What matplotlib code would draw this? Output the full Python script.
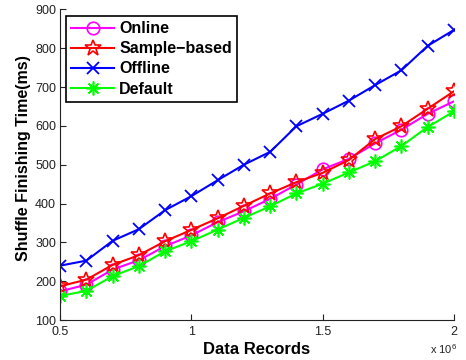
import matplotlib
matplotlib.use('Agg')
import matplotlib.pyplot as plt

plt.rcParams['font.family'] = ['Liberation Sans', 'DejaVu Sans']
plt.rcParams['mathtext.fontset'] = 'custom'
plt.rcParams['mathtext.rm'] = 'Liberation Sans'

# data records in units of 10^6
records = [0.5, 0.6, 0.7, 0.8, 0.9, 1.0, 1.1, 1.2, 1.3, 1.4, 1.5, 1.6, 1.7, 1.8, 1.9, 2.0]
online = [174, 191, 230, 254, 290, 318, 352, 380, 412, 449, 488, 515, 555, 590, 631, 663]
sample_based = [187, 204, 242, 267, 303, 332, 362, 394, 426, 455, 479, 512, 566, 599, 644, 689]
offline = [240, 253, 304, 334, 383, 419, 460, 500, 533, 599, 631, 665, 705, 743, 806, 847]
default = [162, 175, 213, 239, 277, 303, 333, 363, 393, 426, 451, 480, 509, 548, 597, 637]

x_ticks = [0.5, 1, 1.5, 2]
x_tick_labels = ['0.5', '1', '1.5', '2']
y_ticks = [100, 200, 300, 400, 500, 600, 700, 800, 900]

fig = plt.figure(figsize=(4.66, 3.6), dpi=100)
ax = fig.add_axes([0.129, 0.111, 0.845, 0.863])

lw = 1.5
ax.plot(records, online, color='#ff00ff', marker='o', markersize=9, markerfacecolor='none',
        markeredgewidth=1.2, linewidth=lw, label='Online')
ax.plot(records, sample_based, color='#ff0000', marker='*', markersize=12, markerfacecolor='none',
        markeredgewidth=1.2, linewidth=lw, label='Sample\u2212based')
ax.plot(records, offline, color='#0000ff', marker='x', markersize=8, markeredgewidth=1.3,
        linewidth=lw, label='Offline')
ax.plot(records, default, color='#00ff00', marker=(8, 2, 0), markersize=10, markeredgewidth=1.2,
        linewidth=lw, label='Default')

ax.set_xlim(0.5, 2)
ax.set_ylim(100, 900)
ax.set_xticks(x_ticks)
ax.set_xticklabels(x_tick_labels)
ax.set_yticks(y_ticks)
ax.tick_params(direction='in', length=4, width=0.8, labelsize=9, colors='#222222')
ax.tick_params(axis='x', pad=4)
ax.tick_params(axis='y', pad=3)
for s in ['top', 'right']:
    ax.spines[s].set_visible(False)
for s in ['left', 'bottom']:
    ax.spines[s].set_color('#222222')
    ax.spines[s].set_linewidth(0.8)

ax.set_xlabel('Data Records', fontsize=12, fontweight='bold', labelpad=3)
ax.set_ylabel('Shuffle Finishing Time(ms)', fontsize=11.5, fontweight='bold')
ax.yaxis.set_label_coords(-0.075, 0.52)
fig.text(0.981, 0.012, r'x 10$^{6}$', fontsize=8, ha='right', va='bottom', color='#222222')

leg = ax.legend(loc='upper left', bbox_to_anchor=(0.01, 0.985), fancybox=False, framealpha=1,
                edgecolor='black', prop={'weight': 'bold', 'size': 11.5}, handlelength=2.7,
                handletextpad=0.3, labelspacing=0.32, borderpad=0.35, borderaxespad=0.1)
leg.get_frame().set_linewidth(1.2)

fig.savefig('out.png', dpi=100)
